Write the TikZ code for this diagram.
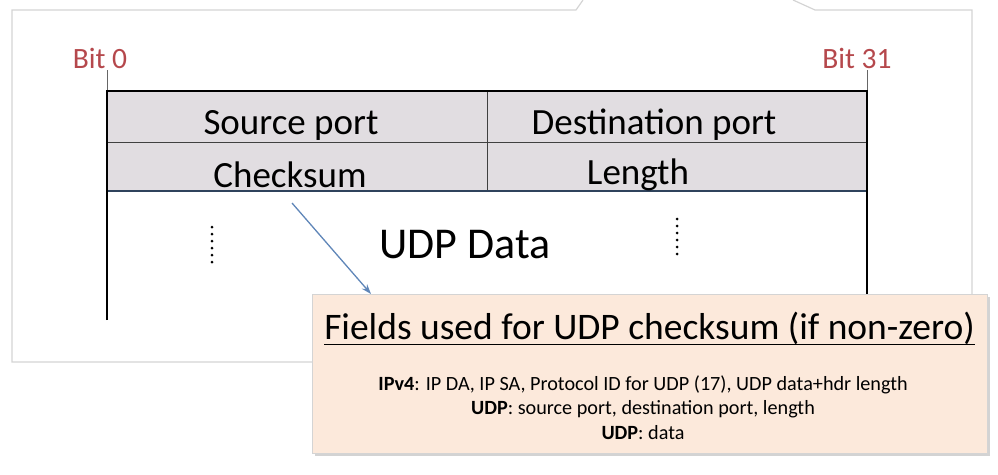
\documentclass[tikz,border=0pt]{standalone}
\usepackage{fontspec}
\setmainfont{Carlito}
\usetikzlibrary{arrows.meta,shadows}
\definecolor{hdrfill}{HTML}{E1DDE1}
\definecolor{bitred}{HTML}{B5484C}
\definecolor{arrblue}{HTML}{5F86B8}
\definecolor{peach}{HTML}{FCE9DB}
\definecolor{framegray}{HTML}{D4D4D4}
\tikzset{
  px/.style={x=1pt,y=-1pt},
  cell/.style={font=\fontsize{37}{42}\selectfont, anchor=center, inner sep=0pt},
  bitlbl/.style={font=\fontsize{29.5}{34}\selectfont, text=bitred, inner sep=0pt},
  dotcol/.style={line width=3pt, line cap=round, dash pattern=on 0pt off 7pt},
  smalltxt/.style={font=\fontsize{20.2}{24}\selectfont, inner sep=0pt},
}
\begin{document}
\begin{tikzpicture}[px]
\useasboundingbox (0,0) rectangle (998,474);
% outer frame
\draw[framegray, line width=1.2pt] (583,0) -- (576,10) -- (12,10) -- (12,362) -- (320,362);
\draw[framegray, line width=1.2pt] (793,0) -- (815,10) -- (972,10) -- (972,300);
% header fill
\fill[hdrfill] (107,91) rectangle (867,191);
\draw[black!75, line width=0.8pt] (107,142) -- (867,142);
\draw[black!75, line width=0.8pt] (487,91) -- (487,191);
\draw[black!50!arrblue, line width=1.2pt] (107,191) -- (867,191);
% bit ticks
\coordinate (b0t) at (107,70);
\coordinate (b0b) at (107,91);
\coordinate (b31t) at (867,70);
\coordinate (b31b) at (867,91);
\draw[black!60, line width=0.8pt] (b0t) -- (b0b);
\draw[black!60, line width=0.8pt] (b31t) -- (b31b);
\node[bitlbl] (bit0) at (100,58) {Bit 0};
\node[bitlbl] (bit31) at (857,58) {Bit 31};
% thick border
\draw[black, line width=2.5pt] (107,320) -- (107,91) -- (867,91) -- (867,300);
% cells
\node[cell] (src) at (291,125) {Source port};
\node[cell] (dst) at (654,125) {Destination port};
\node[cell] (chk) at (290,175) {Checksum};
\node[cell] (len) at (638,175) {Length};
\node[cell, font=\fontsize{44}{50}\selectfont] (data) at (465,245) {UDP Data};
% dotted columns
\draw[dotcol] (212,227) -- (212,266);
\draw[dotcol] (677,219) -- (677,258);
% info box
\node[draw=framegray, fill=peach, line width=0.6pt, minimum width=675pt, minimum height=159pt, anchor=north west, inner sep=0pt,
      drop shadow={shadow xshift=3pt, shadow yshift=-3pt, opacity=0.35}] (box) at (312,294) {};
\node[font=\fontsize{37.5}{42}\selectfont, inner sep=0pt, anchor=base] (title) at (649.5,339) {Fields used for UDP checksum (if non-zero)};
\draw[black, line width=1.8pt] (title.west |- 0,344.5) -- (title.east |- 0,344.5);
\node[smalltxt] (l1) at (643,385) {\textbf{IPv4}: IP DA, IP SA, Protocol ID for UDP (17), UDP data+hdr length};
\node[smalltxt] (l2) at (643,409) {\textbf{UDP}: source port, destination port, length};
\node[smalltxt] (l3) at (643,433) {\textbf{UDP}: data};
% arrow
\coordinate (arrs) at (292,203);
\draw[arrblue, line width=1.3pt, -{Stealth[length=10pt,width=7pt]}] (arrs) -- (box.north west -| 371,0);
\end{tikzpicture}
\end{document}
